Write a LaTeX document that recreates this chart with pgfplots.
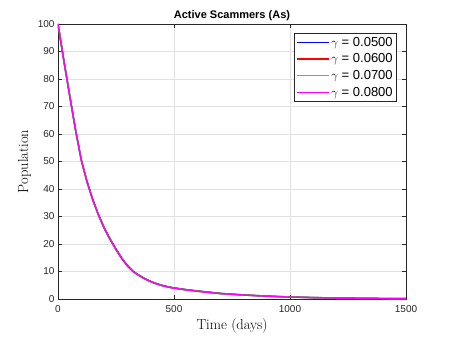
\documentclass[border=0pt]{standalone}
\usepackage{pgfplots}
\pgfplotsset{compat=1.18}
\usepackage{fontspec}
\setmainfont{Liberation Sans}
\newfontfamily\lmserif{Latin Modern Roman}

\definecolor{gridgray}{RGB}{225,225,225}
\definecolor{axgray}{RGB}{38,38,38}
\definecolor{cblue}{RGB}{0,0,255}
\definecolor{cred}{RGB}{255,0,0}
\definecolor{cgreen}{RGB}{0,255,0}
\definecolor{cmag}{RGB}{255,0,255}

% As(t) for four gamma values
\pgfplotstableread{
t     As
0     100
25    86.9
50    74.3
75    61.9
100   50.8
125   42.8
150   36.2
175   30.6
200   25.8
225   21.8
250   18.2
275   14.9
300   12.1
325   10.0
350   8.6
375   7.4
400   6.4
425   5.6
450   4.95
475   4.45
500   4.05
550   3.45
600   2.95
650   2.5
700   2.05
750   1.75
800   1.5
850   1.28
900   1.08
950   0.9
1000  0.75
1100  0.53
1200  0.38
1300  0.27
1400  0.19
1500  0.14
}\gfive

\pgfplotstableread{
t     As
0     100
25    86.8
50    74.2
75    61.8
100   50.7
125   42.7
150   36.1
175   30.5
200   25.7
225   21.7
250   18.1
275   14.8
300   12.0
325   9.95
350   8.55
375   7.35
400   6.35
425   5.55
450   4.9
475   4.4
500   4.0
550   3.4
600   2.9
650   2.45
700   2.0
750   1.72
800   1.47
850   1.25
900   1.05
950   0.88
1000  0.73
1100  0.51
1200  0.36
1300  0.26
1400  0.18
1500  0.13
}\gsix

\pgfplotstableread{
t     As
0     100
25    86.7
50    74.1
75    61.7
100   50.6
125   42.6
150   36.0
175   30.4
200   25.6
225   21.6
250   18.0
275   14.7
300   11.95
325   9.9
350   8.5
375   7.3
400   6.3
425   5.5
450   4.85
475   4.35
500   3.95
550   3.35
600   2.85
650   2.4
700   1.98
750   1.7
800   1.45
850   1.23
900   1.03
950   0.86
1000  0.71
1100  0.5
1200  0.35
1300  0.25
1400  0.17
1500  0.12
}\gseven

\pgfplotstableread{
t     As
0     100
25    86.6
50    74.0
75    61.6
100   50.5
125   42.5
150   35.9
175   30.3
200   25.5
225   21.5
250   17.9
275   14.6
300   11.9
325   9.85
350   8.45
375   7.25
400   6.25
425   5.45
450   4.8
475   4.3
500   3.9
550   3.3
600   2.8
650   2.35
700   1.95
750   1.68
800   1.43
850   1.21
900   1.01
950   0.84
1000  0.69
1100  0.48
1200  0.34
1300  0.24
1400  0.16
1500  0.11
}\geight

\begin{document}
\begin{tikzpicture}
\begin{axis}[
    scale only axis,
    width=348pt,
    height=275pt,
    xmin=0, xmax=1500,
    ymin=0, ymax=100,
    xtick={0,500,1000,1500},
    ytick={0,10,...,100},
    tick align=inside,
    major tick length=4pt,
    tick style={axgray, line width=0.5pt},
    axis line style={axgray, line width=0.6pt},
    grid=major,
    grid style={gridgray, line width=0.5pt},
    ticklabel style={font=\fontsize{10}{12}\selectfont, text=axgray},
    xticklabel style={yshift=-3pt},
    /pgf/number format/assume math mode=true,
    /pgf/number format/1000 sep={},
    scaled ticks=false,
    title={\textbf{Active Scammers (As)}},
    title style={font=\fontsize{11}{13}\selectfont, yshift=-6pt},
    xlabel={\lmserif Time (days)},
    ylabel={\lmserif Population},
    xlabel style={font=\fontsize{14.5}{16}\selectfont, yshift=1pt},
    ylabel style={font=\fontsize{14.5}{16}\selectfont, yshift=0pt},
    legend style={at={(0.974,0.967)}, anchor=north east,
        draw=axgray, line width=0.5pt, fill=white,
        font=\fontsize{13}{15}\selectfont,
        inner xsep=2pt, inner ysep=2pt, row sep=2pt},
    legend cell align=left,
    legend image code/.code={\draw[#1] (0cm,0cm) -- (1.1cm,0cm);},
]
\addplot[color=cblue, line width=1.4pt] table[x=t, y=As] {\gfive};
\addlegendentry{$\gamma$ = 0.0500}
\addplot[color=cred, line width=1.4pt] table[x=t, y=As] {\gsix};
\addlegendentry{$\gamma$ = 0.0600}
\addplot[color=cgreen, line width=1.4pt] table[x=t, y=As] {\gseven};
\addlegendentry{$\gamma$ = 0.0700}
\addplot[color=cmag, line width=1.4pt] table[x=t, y=As] {\geight};
\addlegendentry{$\gamma$ = 0.0800}
\end{axis}
\path ([xshift=-58pt,yshift=-37pt]current axis.south west) rectangle ([xshift=43pt,yshift=24pt]current axis.north east);
\end{tikzpicture}
\end{document}
